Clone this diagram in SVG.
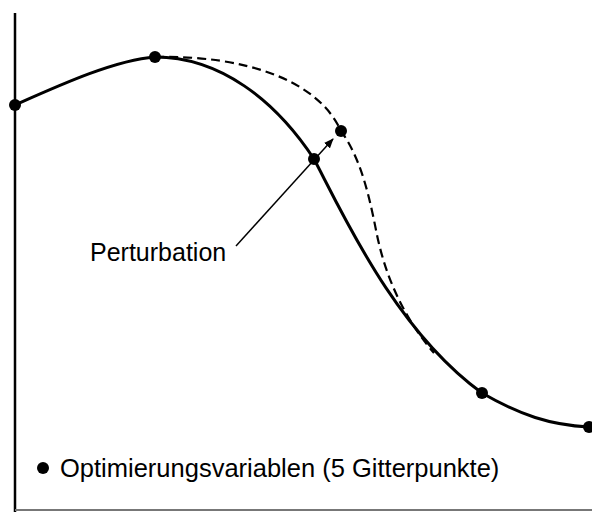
<svg xmlns="http://www.w3.org/2000/svg" width="592" height="512" viewBox="0 0 592 512">
<defs>
<style>
.t{font-family:"Liberation Sans",Arial,sans-serif;font-size:25px;fill:#000}
.pt{fill:#000}
</style>
<marker id="ah" markerWidth="10" markerHeight="8" refX="9" refY="4" orient="auto" markerUnits="userSpaceOnUse"><path d="M0,0 L10,4 L0,8 z" fill="#000"/></marker>
</defs>
<rect width="592" height="512" fill="#fff"/>
<g id="axes">
<line x1="15" y1="13" x2="15" y2="512" stroke="#000" stroke-width="2.5"/>
<line x1="15" y1="510" x2="592" y2="510" stroke="#777" stroke-width="2"/>
</g>
<g id="connectors" fill="none">
<path d="M15,105 C60,85 115,60 155,57 C220,57 275,100 314,159 C342,212 395,330 482,393 C520,415 550,425 589,427" stroke="#000" stroke-width="3"/>
<path d="M155,57 C245,55 318,80 341,131 C362,160 370,200 377,235 C386,278 404,318 434,353" stroke="#000" stroke-width="2.2" stroke-dasharray="9,5"/>
<line x1="236" y1="246" x2="333" y2="139" stroke="#000" stroke-width="1.5" marker-end="url(#ah)"/>
</g>
<g id="p1"><circle class="pt" cx="15" cy="105" r="6"/></g>
<g id="p2"><circle class="pt" cx="155" cy="57" r="6"/></g>
<g id="p3"><circle class="pt" cx="314" cy="159" r="6"/></g>
<g id="p3b"><circle class="pt" cx="341" cy="131" r="6"/></g>
<g id="p4"><circle class="pt" cx="482" cy="393" r="6"/></g>
<g id="p5"><circle class="pt" cx="589" cy="427" r="6"/></g>
<g id="label-perturbation"><text class="t" x="90" y="261">Perturbation</text></g>
<g id="legend"><circle class="pt" cx="43" cy="468" r="6"/><text class="t" x="60" y="477" style="font-size:25.5px">Optimierungsvariablen (5 Gitterpunkte)</text></g>
</svg>
